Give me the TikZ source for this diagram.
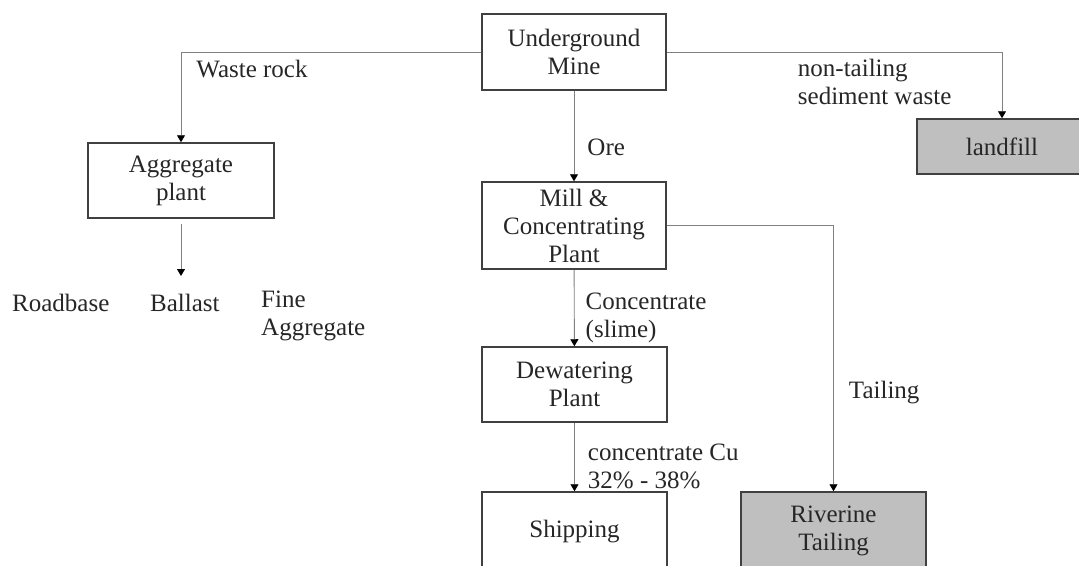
\documentclass[tikz,border=0pt]{standalone}
\usepackage{fontspec}
\setmainfont{Liberation Serif}
\usetikzlibrary{arrows.meta}

\begin{document}
\begin{tikzpicture}[x=1pt, y=-1pt,
   font=\fontsize{25}{28}\selectfont, text=black!85,
   unit/.style = {shape = rectangle, draw = black!75, line width = 1.5pt, align = center, inner sep = 0pt},
   waste/.style = {unit, fill = black!25},
   flow/.style = {draw = black!50, line width = 0.9pt, -{Triangle[width=8pt, length=7pt, black]}},
   lbl/.style = {anchor = west, align = left, inner sep = 0pt}]
   \clip (0,0) rectangle (1079,565);
   \useasboundingbox (0,0) rectangle (1079,565);

   \node(mine) at (574,52) [unit, minimum width = 184pt, minimum height = 76pt] {Underground\\Mine};
   \node(agg) at (181,180.5) [unit, minimum width = 186pt, minimum height = 75pt] {Aggregate\\plant};
   \node(mill) at (574,225.5) [unit, minimum width = 184pt, minimum height = 87pt] {Mill \&\\Concentrating\\Plant};
   \node(landfill) at (1002,146.5) [waste, minimum width = 170pt, minimum height = 55pt] {landfill};
   \node(dewater) at (574.5,384.5) [unit, minimum width = 185pt, minimum height = 75pt] {Dewatering\\Plant};
   \node(ship) at (574.5,532) [unit, minimum width = 185pt, minimum height = 80pt] {Shipping};
   \node(riverine) at (833.5,531) [waste, minimum width = 185pt, minimum height = 78pt] {Riverine\\Tailing};
   \coordinate(aggout) at (181,276);

   \node(roadbase) at (12,303) [lbl] {Roadbase};
   \node(ballast) at (150,303) [lbl] {Ballast};
   \node(fine) at (261,316) [lbl] {Fine\\Aggregate};

   \draw [flow] (mine.west) -| node[lbl, pos = 0.475, yshift = -17pt]{Waste rock} (agg.north) ;
   \draw [flow] (mine.east) -| node[lbl, pos = 0.195, yshift = -30pt]{non-tailing\\sediment waste} (landfill.north) ;
   \draw [flow] (mine) to node[lbl, xshift = 13pt, yshift = -11pt]{Ore} (mill) ;
   \draw [flow, shorten <= 5pt] (agg) to (aggout) ;
   \draw [flow] (mill.east) -| node[lbl, pos = 0.815, xshift = 15pt]{Tailing} (riverine.north) ;
   \draw [flow] (mill) to node[lbl, xshift = 11pt, yshift = -9.5pt]{Concentrate\\(slime)} (dewater) ;
   \draw [flow] (dewater) to node[lbl, xshift = 13pt, yshift = -9.5pt]{concentrate Cu\\32\% - 38\%} (ship) ;
\end{tikzpicture}
\end{document}
